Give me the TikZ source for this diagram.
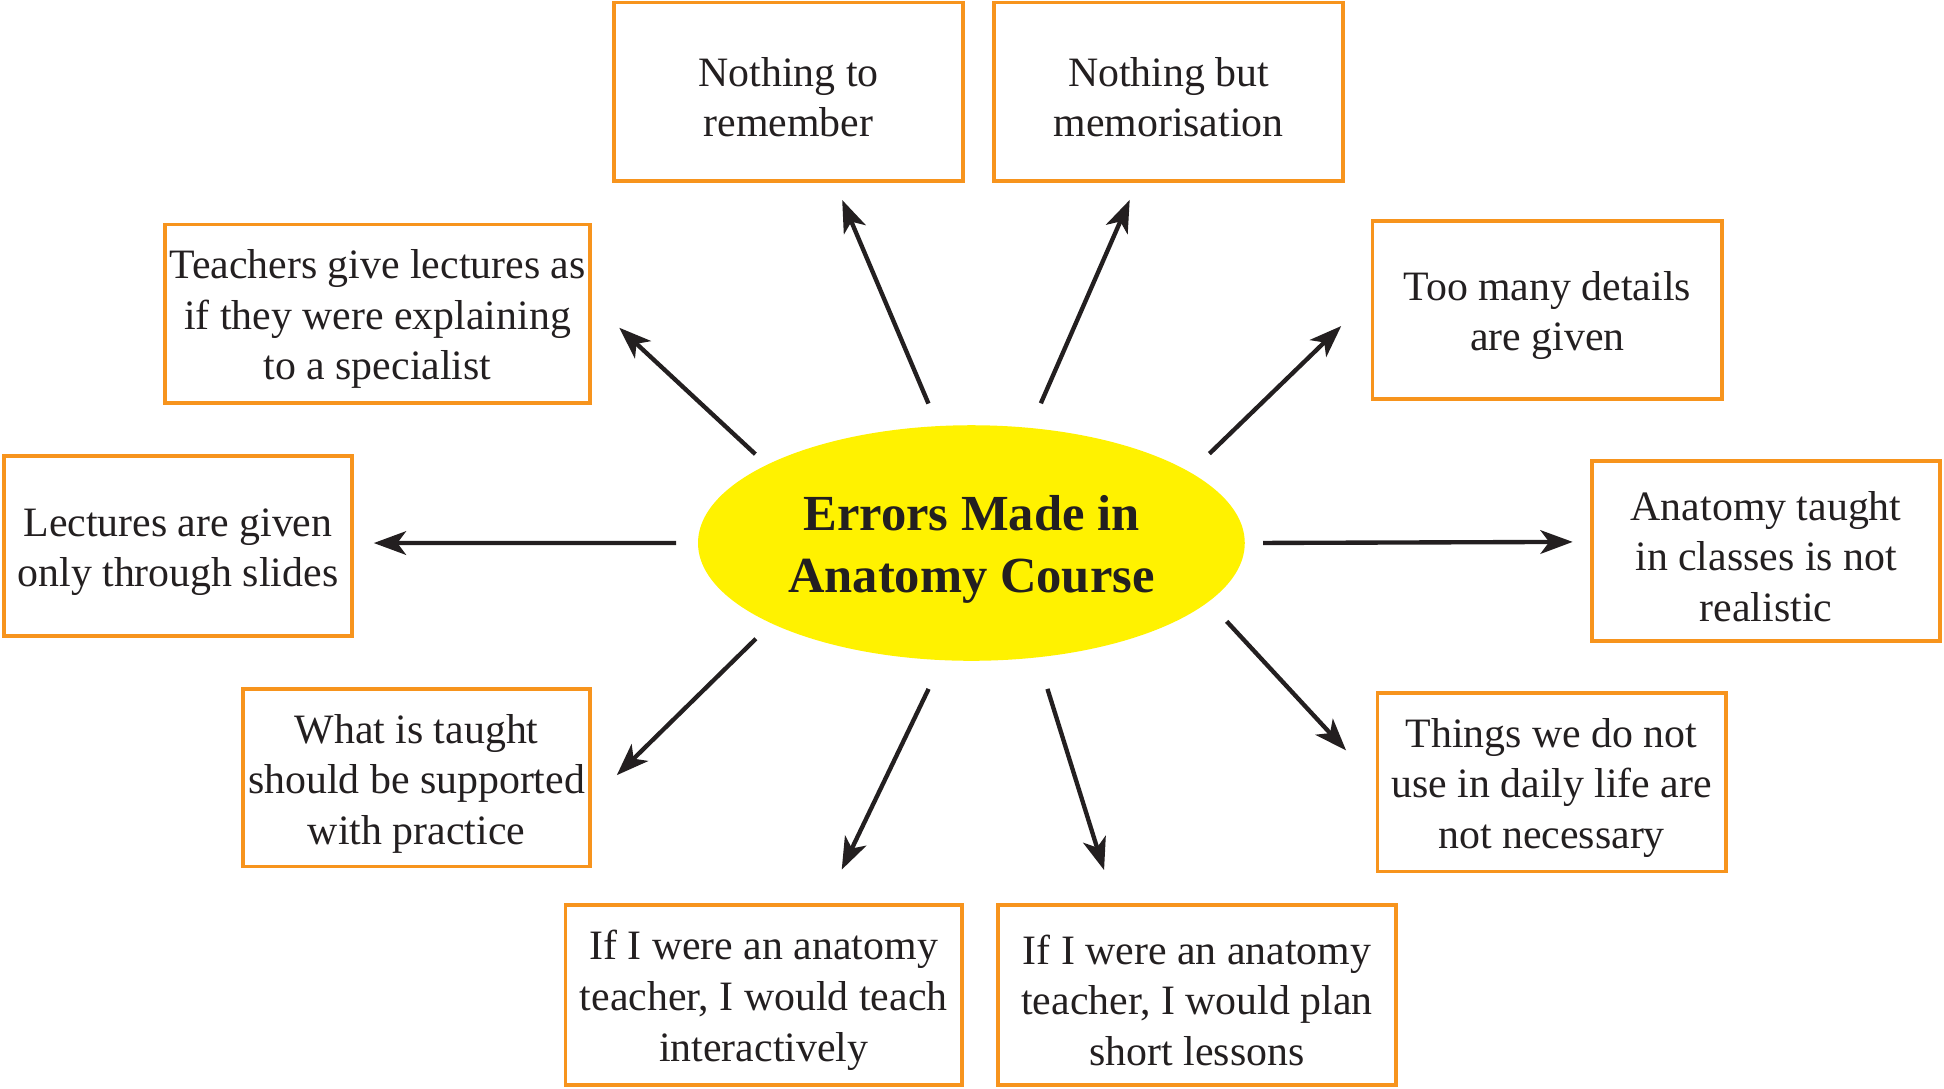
\documentclass[tikz,border=0pt]{standalone}
\usepackage{fontspec}
\setmainfont{Liberation Serif}
\usetikzlibrary{arrows.meta,shapes.geometric}
\definecolor{boxorange}{RGB}{247,148,29}
\definecolor{hubyellow}{RGB}{255,242,0}
\definecolor{inkgray}{RGB}{35,31,32}
\newcommand{\padtop}[1]{\rule{0pt}{#1}}

\begin{document}
\begin{tikzpicture}[
  item/.style={draw=boxorange,line width=0.85pt,minimum height=1.44cm,inner sep=0pt,align=center,text=inkgray,font=\fontsize{9.6}{11.6}\selectfont},
  hub/.style={ellipse,fill=hubyellow,inner sep=0pt,minimum width=4.41cm,minimum height=1.9cm,align=center,text=inkgray,font=\bfseries\fontsize{11.6}{14.2}\selectfont},
  ray/.style={-{Stealth[length=2.6mm,width=1.9mm,inset=0.7mm]},line width=1pt,draw=inkgray}]
\useasboundingbox (0,0) rectangle (15.68,8.78);
% centre
\node[hub] (errors) at (7.835,4.40) {\padtop{10.8pt}Errors Made in\\Anatomy Course};
% top row
\node[item,minimum width=2.82cm] (noremember) at (6.36,8.04) {\padtop{9.2pt}Nothing to\\remember};
\node[item,minimum width=2.81cm] (memorise) at (9.425,8.04) {\padtop{9.2pt}Nothing but\\memorisation};
% upper sides
\node[item,minimum width=3.43cm] (specialist) at (3.045,6.25) {\padtop{9.2pt}Teachers give lectures as\\if they were explaining\\to a specialist};
\node[item,minimum width=2.82cm] (details) at (12.48,6.28) {\padtop{9.2pt}Too many details\\are given};
% middle sides
\node[item,minimum width=2.81cm,minimum height=1.45cm] (slides) at (1.435,4.375) {\padtop{9.2pt}Lectures are given\\only through slides};
\node[item,minimum width=2.81cm,minimum height=1.45cm] (realistic) at (14.245,4.335) {\padtop{9.2pt}Anatomy taught\\in classes is not\\realistic};
% lower sides
\node[item,minimum width=2.80cm,minimum height=1.43cm] (practice) at (3.36,2.505) {\padtop{9.2pt}What is taught\\should be supported\\with practice};
\node[item,minimum width=2.81cm] (daily) at (12.515,2.47) {\padtop{9.2pt}Things we do not\\use in daily life are\\not necessary};
% bottom row
\node[item,minimum width=3.20cm,minimum height=1.45cm] (interactive) at (6.16,0.755) {\padtop{9.2pt}If I were an anatomy\\teacher, I would teach\\interactively};
\node[item,minimum width=3.21cm,minimum height=1.45cm] (short) at (9.655,0.755) {\padtop{9.2pt}If I were an anatomy\\teacher, I would plan\\short lessons};
% arrows
\draw[ray,shorten <=1.9mm,shorten >=1.5mm] (errors.106.6) -- (noremember.-63.4);
\draw[ray,shorten <=2.1mm,shorten >=1.5mm] (errors.63.7) -- (memorise.251.4);
\draw[ray,shorten <=1.2mm,shorten >=3.0mm] (errors.159.1) -- (specialist.3.9);
\draw[ray,shorten <=2.1mm,shorten >=3.3mm] (errors.18) -- (details.176);
\draw[ray,shorten <=1.7mm,shorten >=1.6mm] (errors.180) -- (slides.1);
\draw[ray,shorten <=1.4mm,shorten >=1.4mm] (errors.0) -- (realistic.177.4);
\draw[ray,shorten <=1.7mm,shorten >=2.8mm] (errors.202.1) -- (practice.-7.7);
\draw[ray,shorten <=2.1mm,shorten >=3.5mm] (errors.-14.5) -- (daily.180.5);
\draw[ray,shorten <=2.5mm,shorten >=3.0mm] (errors.256.7) -- (interactive.56.7);
\draw[ray,shorten <=2.6mm,shorten >=2.8mm] (errors.300.8) -- (short.132.4);
\end{tikzpicture}
\end{document}
